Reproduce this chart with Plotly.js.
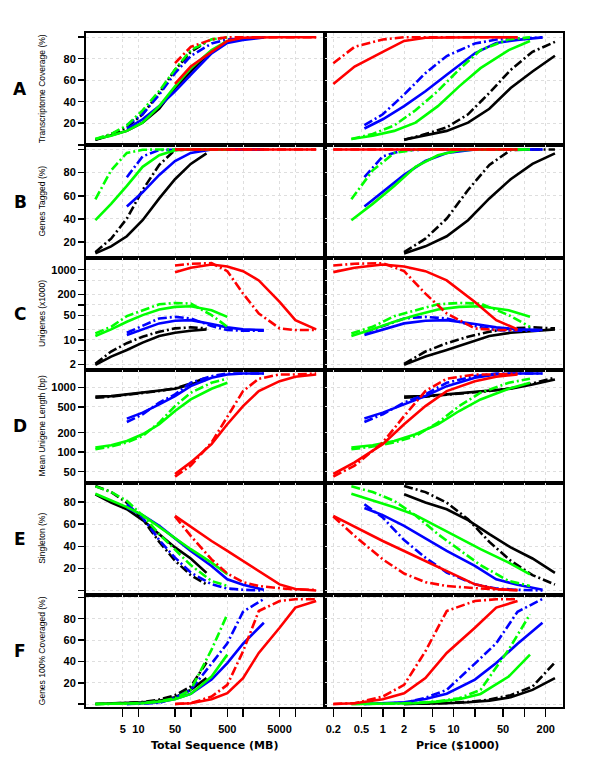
<!DOCTYPE html>
<html><head><meta charset="utf-8">
<script src="https://cdn.plot.ly/plotly-3.0.1.min.js"></script>
<style>html,body{margin:0;padding:0;background:#fff}#chart{width:600px;height:776px}</style>
</head><body><div id="chart"></div>
<script>
// x values per technology: sequence amount (MB) and price ($1000)
const blackMB = [1.5, 3, 6, 12, 25, 50, 100, 200];
const blackPrice = [2, 4, 8, 16, 32, 64, 130, 270];
const greenMB = [1.5, 3, 6, 12, 25, 50, 100, 250, 500];
const greenPrice = [0.36, 0.72, 1.45, 2.9, 6, 12, 24, 60, 120];
const blueMB = [6, 12, 25, 50, 100, 250, 500, 1000, 2500];
const bluePrice = [0.55, 1, 2, 4, 8, 20, 40, 80, 180];
const redMB = [50, 100, 250, 500, 1000, 2000, 5000, 10000, 25000];
const redPrice = [0.2, 0.4, 1, 2, 4, 8, 20, 40, 80];

// A: Transcriptome coverage (%)
const aBlackSolid = [4.7, 9.0, 12.9, 20.6, 33.5, 52.8, 68.1, 82.8];
const aBlackDash  = [4.7, 9.9, 16.1, 28.3, 48.2, 69.6, 86.4, 95.6];
const aBlueSolid  = [15.1, 23.7, 35.9, 49.7, 65.0, 85.0, 94.7, 97.5, 99.8];
const aBlueDash   = [18.2, 28.3, 46.7, 66.6, 82.5, 94.1, 97.8, 99.0, 99.8];
const aGreenSolid = [5.3, 8.3, 12.9, 20.6, 35.9, 54.3, 71.2, 88.0, 96.5];
const aGreenDash  = [5.3, 10, 18, 32, 50, 70, 88, 98, 99.8];
const aRedSolid   = [56.5, 72.7, 86.4, 96.5, 99.5, 100, 100, 100, 100];
const aRedDash    = [75.8, 91.0, 97.8, 100, 100, 100, 100, 100, 100];

// B: Genes tagged (%)
const bBlackSolid = [10.2, 16.3, 25, 38.9, 57.7, 74.3, 87.5, 96.6];
const bBlackDash  = [11.3, 22.9, 40.3, 65, 86.7, 99.5, 100, 100];
const bBlueSolid  = [50.7, 63, 78, 90, 97, 100, 100, 100, 100];
const bBlueDash   = [76, 94, 99.5, 100, 100, 100, 100, 100, 100];
const bGreenSolid = [38.9, 53, 68.5, 85, 95, 99.3, 100, 100, 100];
const bGreenDash  = [56.9, 82, 97, 99.7, 100, 100, 100, 100, 100];
const bRedSolid   = [100, 100, 100, 100, 100, 100, 100, 100, 100];
const bRedDash    = [100, 100, 100, 100, 100, 100, 100, 100, 100];

// C: Unigenes (x1000)
const cBlackSolid = [1.96, 3.37, 5.2, 8.4, 13.0, 16.1, 18.3, 20.1];
const cBlackDash  = [2.1, 4.7, 8.1, 12.4, 17.2, 21.4, 22.9, 21.4];
const cBlueSolid  = [13.8, 20.1, 29.7, 35.2, 36.8, 28.4, 22.9, 20.1, 19.2];
const cBlueDash   = [16.1, 24.9, 41.1, 45.6, 41.1, 24.9, 19.2, 18.3, 18.3];
const cGreenSolid = [13, 20.1, 33, 51, 73.8, 87.5, 91.6, 70.6, 45.6];
const cGreenDash  = [15.4, 23.8, 47.8, 70.6, 104, 113, 109, 51, 23.8];
const cRedSolid   = [855, 1140, 1413, 1240, 912, 497, 121, 36.8, 20.1];
const cRedDash    = [1324, 1479, 1538, 912, 209, 57, 21.4, 19.2, 19.2];

// D: Mean unigene length (bp)
const dBlackSolid = [720, 735, 780, 828, 877, 955, 1112, 1328];
const dBlackDash  = [694, 720, 770, 820, 880, 970, 1150, 1420];
const dBlueSolid  = [330, 408, 547, 735, 1047, 1409, 1585, 1641, 1641];
const dBlueDash   = [292, 385, 582, 780, 1181, 1493, 1641, 1641, 1641];
const dGreenSolid = [118, 128, 149, 189, 270, 432, 653, 955, 1181];
const dGreenDash  = [111, 122, 141, 178, 286, 515, 828, 1181, 1361];
const dRedSolid   = [46, 69.5, 133, 270, 515, 877, 1250, 1462, 1585];
const dRedDash    = [42, 62, 141, 361, 877, 1361, 1585, 1585, 1641];

// E: Singleton (%)
const eBlackSolid = [87, 79.6, 73.5, 63.7, 51, 39, 29, 16];
const eBlackDash  = [94.6, 89, 79.5, 64.5, 44, 27, 14, 5.5];
const eBlueSolid  = [74.7, 68.2, 58.5, 47.2, 35.9, 22.3, 10.2, 5.2, 0.7];
const eBlueDash   = [78, 66, 45.6, 29.8, 16.3, 5.7, 1.9, 0.7, 0.1];
const eGreenSolid = [87.5, 81.8, 75.4, 68.2, 57.7, 47.1, 37.4, 25.3, 14.7];
const eGreenDash  = [94.2, 89.1, 81.1, 67.9, 51, 36.6, 23, 8.7, 4.2];
const eRedSolid   = [67.5, 57.7, 44.8, 35.8, 26.7, 17.7, 5.6, 1.4, 0];
const eRedDash    = [67, 49.4, 28.2, 15.4, 7.6, 4.1, 2.2, 1, 0.7];

// F: Genes 100% coveraged (%)
const fBlackSolid = [0.2, 0.5, 0.9, 1.8, 3.3, 6.5, 13.4, 24.4];
const fBlackDash  = [0.2, 0.5, 1.2, 2.1, 4.3, 8.4, 16.5, 39.1];
const fBlueSolid  = [0.2, 0.7, 1.8, 4.8, 9.8, 23, 38.5, 56.6, 76.2];
const fBlueDash   = [0.2, 0.5, 1.2, 6, 13.4, 38, 57, 86.5, 98.5];
const fGreenSolid = [0.2, 0.2, 0.5, 0.9, 2.4, 4.6, 9.6, 25.9, 46.4];
const fGreenDash  = [0.2, 0.2, 0.5, 1.2, 2.8, 5.6, 13.4, 51.1, 84.1];
const fRedSolid   = [0.2, 0.9, 4.6, 10.3, 24.4, 48, 71.5, 90.4, 96.6];
const fRedDash    = [0.2, 0.9, 7.1, 18.1, 49.5, 87.2, 96.6, 98.2, 98.2];

const rowLabels = ['A', 'B', 'C', 'D', 'E', 'F'];
const rowTitles = ['Transcriptome Coverage (%)', 'Genes Tagged (%)', 'Unigenes (x1000)',
  'Mean Unigene Length (bp)', 'Singleton (%)', 'Genes 100% Coveraged (%)'];
const pctTicks = [0, 20, 40, 60, 80, 100];
const pctText = ['', '20', '40', '60', '80', ''];
const cTicks = [2, 5, 10, 20, 50, 100, 200, 500, 1000];
const cText = ['2', '', '10', '', '50', '', '200', '', '1000'];
const dTicks = [50, 100, 200, 500, 1000];
const dText = ['50', '100', '200', '500', '1000'];
const mbTicks = [5, 10, 50, 100, 500, 1000, 5000, 10000];
const mbText = ['5', '10', '50', '', '500', '', '5000', ''];
const priceTicks = [0.2, 0.5, 1, 2, 5, 10, 20, 50, 100, 200];
const priceText = ['0.2', '0.5', '1', '2', '5', '10', '', '50', '', '200'];
const xTitleLeft = 'Total Sequence (MB)';
const xTitleRight = 'Price ($1000)';

const rowData = [
  [aBlackSolid, aBlackDash, aBlueSolid, aBlueDash, aGreenSolid, aGreenDash, aRedSolid, aRedDash],
  [bBlackSolid, bBlackDash, bBlueSolid, bBlueDash, bGreenSolid, bGreenDash, bRedSolid, bRedDash],
  [cBlackSolid, cBlackDash, cBlueSolid, cBlueDash, cGreenSolid, cGreenDash, cRedSolid, cRedDash],
  [dBlackSolid, dBlackDash, dBlueSolid, dBlueDash, dGreenSolid, dGreenDash, dRedSolid, dRedDash],
  [eBlackSolid, eBlackDash, eBlueSolid, eBlueDash, eGreenSolid, eGreenDash, eRedSolid, eRedDash],
  [fBlackSolid, fBlackDash, fBlueSolid, fBlueDash, fGreenSolid, fGreenDash, fRedSolid, fRedDash]
];

// ----- layout / styling -----
const W = 600, H = 776;
const colX = [[86, 325], [325, 563]];
const top0 = 33, rowH = 112.4;
const yRanges = [[-0.6, 103.9], [6.4, 103.5], [0.14, 3.34], [1.53, 3.266], [-4, 97.6], [-3, 102.2]];
const yTypes = ['linear', 'linear', 'log', 'log', 'linear', 'linear'];
const yTickSets = [[pctTicks, pctText], [pctTicks, pctText], [cTicks, cText], [dTicks, dText], [pctTicks, pctText], [pctTicks, pctText]];
const xRanges = [[-0.003, 4.567], [-0.816, 2.545]];
const techColors = ['#000000', '#0000FF', '#00FF00', '#FF0000'];
const techX = [[blackMB, blackPrice], [blueMB, bluePrice], [greenMB, greenPrice], [redMB, redPrice]];
const dashPat = '9px,3px,2px,3px';
const tickFont = {family: 'Liberation Sans, Arial, sans-serif', size: 11, color: '#000', weight: 'bold'};
const gridCol = '#dedede';

const traces = [];
const layout = {
  width: W, height: H, margin: {l: 0, r: 0, t: 0, b: 0},
  paper_bgcolor: '#fff', plot_bgcolor: '#fff', showlegend: false,
  annotations: []
};

for (let r = 0; r < 6; r++) {
  const yTop = top0 + r * rowH, yBot = yTop + rowH;
  for (let c = 0; c < 2; c++) {
    const idx = r * 2 + c + 1;
    const xa = 'xaxis' + idx, ya = 'yaxis' + idx;
    const bottom = (r === 5);
    layout[xa] = {
      domain: [colX[c][0] / W, colX[c][1] / W], anchor: 'y' + idx, type: 'log',
      range: xRanges[c], tickmode: 'array',
      tickvals: c === 0 ? mbTicks : priceTicks, ticktext: c === 0 ? mbText : priceText,
      showticklabels: bottom, ticks: bottom ? 'outside' : '', ticklen: 8, tickwidth: 1.5, tickcolor: '#000',
      ticklabelstandoff: 2,
      tickfont: tickFont, showgrid: true, gridcolor: gridCol, griddash: 'dot', gridwidth: 1,
      showline: true, mirror: true, linecolor: '#000', linewidth: 2, zeroline: false, fixedrange: true
    };
    layout[ya] = {
      domain: [1 - yBot / H, 1 - yTop / H], anchor: 'x' + idx, type: yTypes[r],
      range: yRanges[r], tickmode: 'array', tickvals: yTickSets[r][0], ticktext: yTickSets[r][1],
      showticklabels: c === 0, ticks: c === 0 ? 'outside' : '', ticklen: 6, tickwidth: 1.5, tickcolor: '#000',
      tickfont: tickFont, showgrid: true, gridcolor: gridCol, griddash: 'dot', gridwidth: 1,
      showline: true, mirror: true, linecolor: '#000', linewidth: 2, zeroline: false, fixedrange: true
    };
    for (let t = 0; t < 4; t++) {
      for (let s = 0; s < 2; s++) {
        traces.push({
          type: 'scatter', mode: 'lines', xaxis: 'x' + idx, yaxis: 'y' + idx,
          x: techX[t][c], y: rowData[r][t * 2 + s], hoverinfo: 'skip',
          line: {color: techColors[t], width: 2.6, dash: s === 0 ? 'solid' : dashPat}
        });
      }
    }
  }
  const yc = 1 - (yTop + rowH / 2) / H;
  layout.annotations.push({
    xref: 'paper', yref: 'paper', x: 20 / W, y: yc, text: rowLabels[r], showarrow: false,
    xanchor: 'center', yanchor: 'middle',
    font: {family: 'DejaVu Sans, sans-serif', size: 17, color: '#000', weight: 'bold'}
  });
  layout.annotations.push({
    xref: 'paper', yref: 'paper', x: 42 / W, y: yc, text: rowTitles[r], showarrow: false,
    textangle: -90, xanchor: 'center', yanchor: 'middle',
    font: {family: 'Liberation Sans, Arial, sans-serif', size: 8.5, color: '#000'}
  });
}
layout.annotations.push({
  xref: 'paper', yref: 'paper', x: 214.5 / W, y: 1 - 745 / H, text: '<b>' + xTitleLeft + '</b>', showarrow: false,
  xanchor: 'center', yanchor: 'middle', font: {family: 'DejaVu Sans, sans-serif', size: 11, color: '#000'}
});
layout.annotations.push({
  xref: 'paper', yref: 'paper', x: 457 / W, y: 1 - 745 / H, text: '<b>' + xTitleRight + '</b>', showarrow: false,
  xanchor: 'center', yanchor: 'middle', font: {family: 'DejaVu Sans, sans-serif', size: 11, color: '#000'}
});

Plotly.newPlot('chart', traces, layout, {staticPlot: true, displayModeBar: false});
</script>
</body></html>
